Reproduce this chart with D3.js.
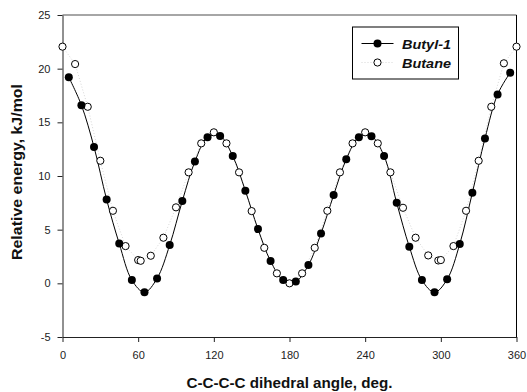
<!DOCTYPE html>
<meta charset="utf-8">
<style>
body { margin: 0; background: #fff; font-family: Arial, "Liberation Sans", sans-serif; }
svg { display: block; }
.tick text { font: 11px Arial, "Liberation Sans", sans-serif; fill: #222; }
.axisLabel { font: bold 14px Arial, "Liberation Sans", sans-serif; fill: #111; }
.legendText { font: bold italic 13px Arial, "Liberation Sans", sans-serif; fill: #111; }
</style>
<body>
<script src="https://d3js.org/d3.v7.min.js"></script>
<script>

// Butyl-1, filled circles with line
var butylAngle = [5, 15, 25, 35, 45, 55, 65, 75, 85, 95, 105, 115, 125, 135, 145, 155, 165, 175,
                  185, 195, 205, 215, 225, 235, 245, 255, 265, 275, 285, 295, 305, 315, 325, 335, 345, 355];
var butylEnergy = [19.2, 16.6, 12.7, 7.8, 3.7, 0.3, -0.84, 0.46, 3.56, 7.67, 11.35, 13.6, 13.72, 11.86, 8.63, 5.06, 2.07, 0.3,
                   0.18, 1.7, 4.65, 8.22, 11.55, 13.6, 13.7, 11.86, 7.5, 3.41, 0.3, -0.84, 0.37, 3.66, 8.44, 13.5, 17.6, 19.63];

// Butane, open circles
var butaneAngle = [0, 10, 20, 30, 40, 50, 60, 62, 70, 80, 90, 100, 110, 120, 130, 140, 150, 160, 170, 180,
                   190, 200, 210, 220, 230, 240, 250, 260, 270, 280, 290, 298, 300, 310, 320, 330, 340, 350, 360];
var butaneEnergy = [22.05, 20.43, 16.45, 11.42, 6.76, 3.47, 2.17, 2.1, 2.57, 4.25, 7.08, 10.34, 13.04, 14.07, 13.04, 10.34, 6.73, 3.31, 0.93, 0.0,
                    0.93, 3.31, 6.76, 10.34, 13.04, 14.07, 13.04, 10.34, 7.04, 4.25, 2.6, 2.13, 2.17, 3.47, 6.76, 11.42, 16.45, 20.5, 22.05];

var xTicks = [0, 60, 120, 180, 240, 300, 360];
var yTicks = [-5, 0, 5, 10, 15, 20, 25];

var width = 527, height = 392;
var margin = {top: 15, right: 10.5, bottom: 55, left: 62.5};

var svg = d3.select("body").append("svg")
    .attr("width", width)
    .attr("height", height);

var x = d3.scaleLinear().domain([0, 360]).range([margin.left, width - margin.right]);
var y = d3.scaleLinear().domain([-5, 25]).range([height - margin.bottom, margin.top]);

var butyl = butylAngle.map(function(a, i) { return {x: a, y: butylEnergy[i]}; });
var butane = butaneAngle.map(function(a, i) { return {x: a, y: butaneEnergy[i]}; });

// frame: top gray, right black
svg.append("line")
    .attr("x1", x(0)).attr("x2", x(360))
    .attr("y1", y(25)).attr("y2", y(25))
    .attr("stroke", "#888").attr("stroke-width", 1.5);
svg.append("line")
    .attr("x1", x(360)).attr("x2", x(360))
    .attr("y1", y(25)).attr("y2", y(-5))
    .attr("stroke", "#000").attr("stroke-width", 1);

var plain = function(d) { return String(d); };

svg.append("g")
    .attr("transform", "translate(0," + y(-5) + ")")
    .call(d3.axisBottom(x).tickValues(xTicks).tickFormat(plain).tickSize(5).tickPadding(9).tickSizeOuter(0));
svg.append("g")
    .attr("transform", "translate(" + x(0) + ",0)")
    .call(d3.axisLeft(y).tickValues(yTicks).tickFormat(plain).tickSize(5).tickPadding(7).tickSizeOuter(0));
svg.selectAll(".domain").attr("stroke", "#222");
svg.selectAll(".tick line").attr("stroke", "#222");

// butane faint dotted line
var lineLinear = d3.line()
    .x(function(d) { return x(d.x); })
    .y(function(d) { return y(d.y); });
svg.append("path")
    .datum(butane)
    .attr("d", lineLinear)
    .attr("fill", "none")
    .attr("stroke", "#ccc")
    .attr("stroke-width", 0.8)
    .attr("stroke-dasharray", "1,2");

// butyl-1 solid line
var lineSmooth = d3.line()
    .curve(d3.curveCatmullRom)
    .x(function(d) { return x(d.x); })
    .y(function(d) { return y(d.y); });
svg.append("path")
    .datum(butyl)
    .attr("d", lineSmooth)
    .attr("fill", "none")
    .attr("stroke", "#000")
    .attr("stroke-width", 1);

svg.append("g").selectAll("circle")
    .data(butane)
    .enter().append("circle")
    .attr("cx", function(d) { return x(d.x); })
    .attr("cy", function(d) { return y(d.y); })
    .attr("r", 3.6)
    .attr("fill", "#fff")
    .attr("stroke", "#000")
    .attr("stroke-width", 1);

svg.append("g").selectAll("circle")
    .data(butyl)
    .enter().append("circle")
    .attr("cx", function(d) { return x(d.x); })
    .attr("cy", function(d) { return y(d.y); })
    .attr("r", 4)
    .attr("fill", "#000");

// axis labels
svg.append("text")
    .attr("class", "axisLabel")
    .attr("x", (x(0) + x(360)) / 2)
    .attr("y", 388)
    .attr("text-anchor", "middle")
    .attr("textLength", 206)
    .attr("lengthAdjust", "spacingAndGlyphs")
    .text("C-C-C-C dihedral angle, deg.");

svg.append("text")
    .attr("class", "axisLabel")
    .attr("transform", "translate(22," + (y(10) - 4) + ") rotate(-90)")
    .attr("text-anchor", "middle")
    .attr("textLength", 176)
    .attr("lengthAdjust", "spacingAndGlyphs")
    .text("Relative energy, kJ/mol");

// legend
var legend = svg.append("g").attr("transform", "translate(352.5,27)");
legend.append("rect")
    .attr("width", 106).attr("height", 52)
    .attr("fill", "#fff").attr("stroke", "#000").attr("stroke-width", 1);
legend.append("line")
    .attr("x1", 9).attr("x2", 41).attr("y1", 16.5).attr("y2", 16.5)
    .attr("stroke", "#000");
legend.append("circle")
    .attr("cx", 25).attr("cy", 16.5).attr("r", 4).attr("fill", "#000");
legend.append("text")
    .attr("class", "legendText")
    .attr("x", 49.5).attr("y", 21.5)
    .attr("textLength", 49)
    .attr("lengthAdjust", "spacingAndGlyphs")
    .text("Butyl-1");
legend.append("line")
    .attr("x1", 9).attr("x2", 41).attr("y1", 35.5).attr("y2", 35.5)
    .attr("stroke", "#ccc").attr("stroke-width", 0.8).attr("stroke-dasharray", "1,2");
legend.append("circle")
    .attr("cx", 25).attr("cy", 35.5).attr("r", 3.6)
    .attr("fill", "#fff").attr("stroke", "#000");
legend.append("text")
    .attr("class", "legendText")
    .attr("x", 49.5).attr("y", 40.5)
    .attr("textLength", 49)
    .attr("lengthAdjust", "spacingAndGlyphs")
    .text("Butane");

</script>
</body>
